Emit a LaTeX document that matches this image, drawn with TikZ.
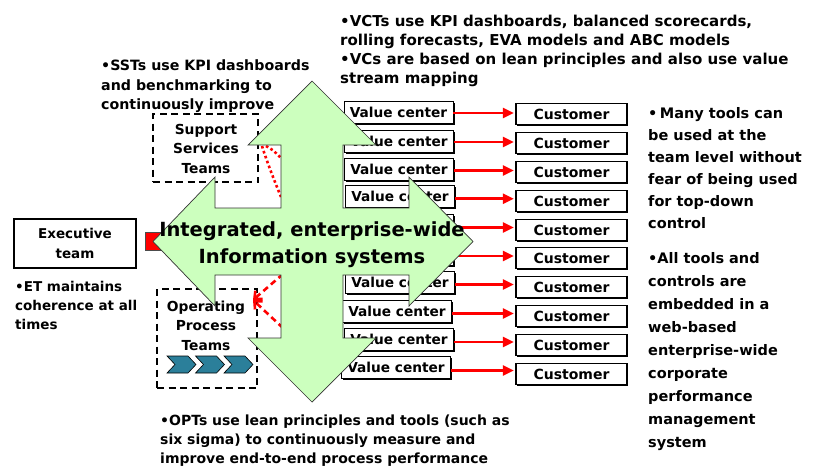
\documentclass[tikz,border=0pt]{standalone}
\usepackage{fontspec}
\setmainfont{DejaVu Sans}
\usetikzlibrary{arrows.meta,shadows,calc}
\definecolor{arrowgreen}{RGB}{204,255,190}
\definecolor{chevcol}{RGB}{43,127,154}
\newcommand\fsz[2]{\fontsize{#1}{#2}\selectfont}
\begin{document}
\begin{tikzpicture}[x=1pt,y=-1pt,
  txt/.style={font=\bfseries\fsz{14}{19}, inner sep=0pt, align=left, anchor=base west},
  vcbox/.style={draw=black, line width=0.8pt, fill=white, minimum width=109pt, minimum height=22pt, inner sep=0pt,
    font=\bfseries\fsz{13.7}{16}, drop shadow={shadow xshift=1.6pt, shadow yshift=-1.8pt, fill=black, opacity=1}},
  custbox/.style={draw=black, line width=1.4pt, fill=white, minimum width=111pt, minimum height=21pt, inner sep=0pt,
    font=\bfseries\fsz{14}{16}, drop shadow={shadow xshift=1pt, shadow yshift=-1pt, fill=black, opacity=1}},
  teambox/.style={draw=black, line width=1.8pt, dash pattern=on 7pt off 4.5pt, inner sep=0pt},
  teamtxt/.style={font=\bfseries\fsz{13.8}{19.5}, align=center, inner sep=0pt},
  redarrow/.style={draw=red, line width=2.8pt, -{Triangle[length=11pt,width=10pt]}},
  chevron/.style={fill=chevcol, draw=black, line width=0.6pt},
]
\useasboundingbox (0,0) rectangle (814,469);
\fill[white] (0,0) rectangle (814,469);

% texts (anchor = baseline of last line)
\node[txt, font=\bfseries\fsz{15}{19}] (vcttext) at (340,83) {•VCTs use KPI dashboards, balanced scorecards,\\rolling forecasts, EVA models and ABC models\\•VCs are based on lean principles and also use value\\stream mapping};
\node[txt, font=\bfseries\fsz{14.2}{19.3}] (ssttext) at (101,109.3) {•SSTs use KPI dashboards\\and benchmarking to\\continuously improve};
\node[txt, font=\bfseries\fsz{13.5}{19}] (ettext) at (15,329.7) {•ET maintains\\coherence at all\\times};
\node[txt, font=\bfseries\fsz{14}{19}] (opttext) at (160,463) {•OPTs use lean principles and tools (such as\\six sigma) to continuously measure and\\improve end-to-end process performance};
\node[txt, font=\bfseries\fsz{14.5}{22}] (righttext1) at (648,228) {•\,Many tools can\\be used at the\\team level without\\fear of being used\\for top-down\\control};
\node[txt, font=\bfseries\fsz{14.5}{23}] (righttext2) at (648,447) {•All tools and\\controls are\\embedded in a\\web-based\\enterprise-wide\\corporate\\performance\\management\\system};

% team boxes
\node[teambox, minimum width=105pt, minimum height=68pt] (sst) at (205.5,148) {};
\node[teamtxt] (sstlabel) at (206,148.5) {Support\\Services\\Teams};
\node[teambox, minimum width=100pt, minimum height=99pt] (opt) at (207,338.5) {};
\node[teamtxt] (optlabel) at (206,325.5) {Operating\\Process\\Teams};
\foreach \k in {0,1,2}{
  \pgfmathsetmacro\xa{167+28.5*\k}
  \draw[chevron] (\xa,356) -- ++(21,0) -- ++(8,8.5) -- ++(-8,8.5) -- ++(-21,0) -- ++(8,-8.5) -- cycle;
}

% executive team
\node[draw=black, line width=1.6pt, fill=white, minimum width=122pt, minimum height=49pt, inner sep=0pt,
  align=center, font=\bfseries\fsz{13.5}{20}, drop shadow={shadow xshift=1pt, shadow yshift=-1pt, fill=black, opacity=1}]
  (exec) at (75,243.5) {Executive\\team};
\draw[draw=black!70, fill=red, line width=0.5pt] ($(exec.east)+(8,-11)$) rectangle ($(exec.east)+(70,7)$);

% value centers and customers (rows 5 and 6 lie wholly behind the big arrow)
\foreach \i/\vx/\vy/\cy/\lab in {1/398.5/112/114/Value center, 2/399/141/143/Value center, 3/399/169/172/Value center,
    4/400/196.5/201/Value center, 5/399/225/230/, 6/399/254/258/, 7/400/282/287/Value center,
    8/397/311/316/Value center, 9/399/339/345/Value center, 10/396/367/374/Value center}{
  \node[vcbox] (vc\i) at (\vx,\vy) {\lab};
  \node[custbox] (cu\i) at (571.5,\cy) {Customer};
  \coordinate (m\i) at ($(vc\i.east)!.5!(cu\i.west)$);
  \draw[redarrow] (vc\i.east |- m\i) -- ([xshift=-1.5pt]cu\i.west |- m\i);
}

% hidden connectors in the notches
\coordinate (d1a) at (262,146);
\coordinate (d1b) at (281,197);
\coordinate (d2a) at (266,146);
\coordinate (d2b) at (281,158);
\draw[red, line width=2.6pt, dash pattern=on 2.6pt off 2.6pt] (d1a) .. controls (268,165) and (275,182) .. (d1b);
\draw[red, line width=2.6pt, dash pattern=on 2.6pt off 2.6pt] (d2a) .. controls (273,150) .. (d2b);
\coordinate (tipa) at (253,300);
\coordinate (la) at (283,274);
\coordinate (lb) at (283,328);
\draw[red, line width=2.6pt, dash pattern=on 6pt off 4pt, -{Straight Barb[length=6pt,width=11pt]}] (la) -- (tipa);
\draw[red, line width=2.6pt, dash pattern=on 6pt off 4pt, -{Straight Barb[length=6pt,width=11pt]}] (lb) -- (tipa);

% big quad arrow
\draw[fill=arrowgreen, draw=black!80, line width=0.7pt]
  (312,81) -- (376,145) -- (343,145) -- (343,208) -- (409,208) -- (409,177) -- (473,241.5)
  -- (409,306) -- (409,275) -- (343,275) -- (343,338) -- (376,338) -- (312,402)
  -- (248,338) -- (281,338) -- (281,275) -- (215,275) -- (215,306) -- (153,241.5)
  -- (215,177) -- (215,208) -- (281,208) -- (281,145) -- (248,145) -- cycle;
\node[font=\bfseries\fsz{19.5}{27}, align=center, inner sep=0pt] (quadtxt) at (312,245) {Integrated, enterprise-wide\\Information systems};
\end{tikzpicture}
\end{document}
